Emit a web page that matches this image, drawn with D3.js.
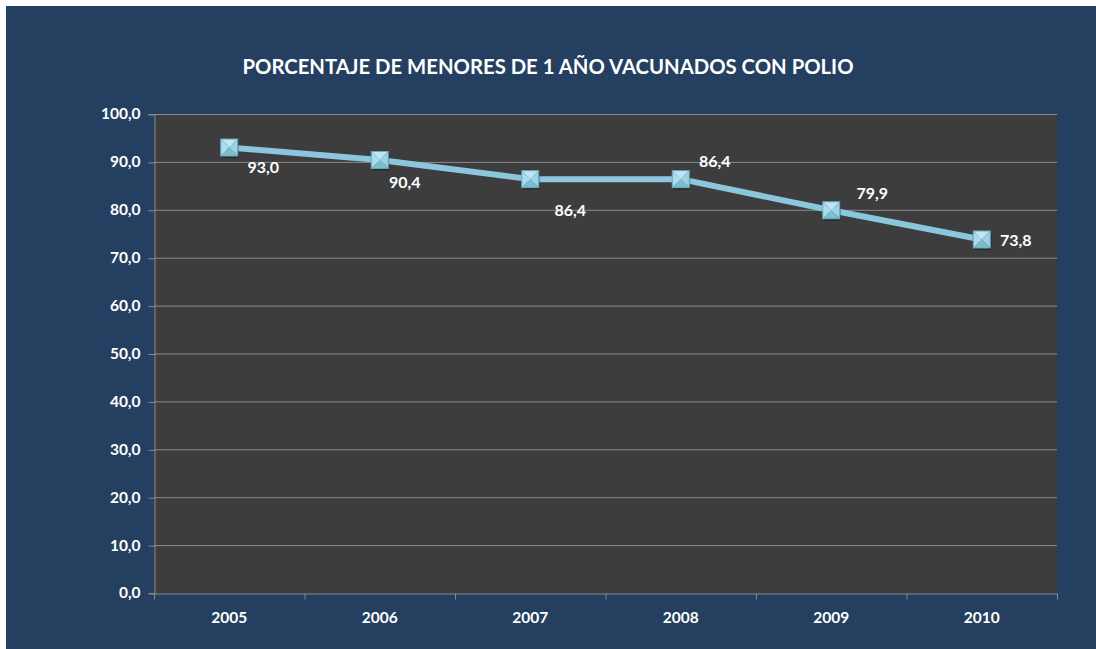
<!DOCTYPE html>
<html>
<head>
<meta charset="utf-8">
<script src="https://cdn.jsdelivr.net/npm/d3@7"></script>
<style>
  html, body { margin: 0; padding: 0; background: #fff; }
  svg { display: block; }
</style>
</head>
<body>
<div id="container"></div>
<script>
const width = 1096;
const height = 649;

const years = ['2005', '2006', '2007', '2008', '2009', '2010'];
const values = [93.0, 90.4, 86.4, 86.4, 79.9, 73.8];
const yTicks = [0, 10, 20, 30, 40, 50, 60, 70, 80, 90, 100];
const title = 'PORCENTAJE DE MENORES DE 1 AÑO VACUNADOS CON POLIO';

// where each value label sits relative to its point (dx, dy)
const labelOffsets = [[34, 20], [25, 22], [40, 31], [34, -18], [41, -17], [34, 1]];

const margin = { top: 114, right: 39, bottom: 56, left: 154 };
const fmt = v => v.toFixed(1).replace('.', ',');
const FONT = 'Lato, "Open Sans", sans-serif';

const svg = d3.select('#container').append('svg')
    .attr('width', width)
    .attr('height', height);

svg.append('rect')
    .attr('x', 6).attr('y', 6)
    .attr('width', width - 6).attr('height', height - 6)
    .attr('fill', '#243f60');

svg.append('text')
    .attr('x', 548)
    .attr('y', 74)
    .attr('text-anchor', 'middle')
    .attr('fill', '#ffffff')
    .attr('font-family', FONT)
    .attr('font-weight', 'bold')
    .attr('font-size', 20.3)
    .text(title);

let x = d3.scaleBand()
    .domain(years)
    .range([margin.left, width - margin.right]);

let y = d3.scaleLinear()
    .domain([0, 100])
    .range([height - margin.bottom, margin.top]);

svg.append('rect')
    .attr('x', x.range()[0])
    .attr('y', y(100))
    .attr('width', x.range()[1] - x.range()[0])
    .attr('height', y(0) - y(100))
    .attr('fill', '#3d3d3d');

// gridlines
svg.append('g')
    .selectAll('line')
    .data(yTicks.filter(d => d > 0))
    .join('line')
    .attr('x1', x.range()[0])
    .attr('x2', x.range()[1])
    .attr('y1', d => y(d) + 0.5)
    .attr('y2', d => y(d) + 0.5)
    .attr('stroke', '#8a8a8a')
    .attr('stroke-width', 1);

// y axis
const yAxis = svg.append('g')
    .attr('transform', `translate(${x.range()[0] + 0.5},0)`)
    .call(d3.axisLeft(y).tickValues(yTicks).tickFormat(fmt).tickSize(6).tickPadding(8));
yAxis.select('.domain').attr('stroke', '#8a8a8a');
yAxis.selectAll('.tick line').attr('stroke', '#8a8a8a').attr('transform', 'translate(0,0.5)');
yAxis.selectAll('.tick text')
    .attr('fill', '#ffffff')
    .attr('font-family', FONT)
    .attr('font-weight', 'bold')
    .attr('font-size', 15.5);

// x axis
const xAxis = svg.append('g')
    .attr('transform', `translate(0,${y(0) + 0.5})`)
    .call(d3.axisBottom(x).tickSize(0).tickPadding(18));
xAxis.select('.domain').attr('stroke', '#8a8a8a');
xAxis.selectAll('.tick text')
    .attr('fill', '#ffffff')
    .attr('font-family', FONT)
    .attr('font-weight', 'bold')
    .attr('font-size', 15.5);
xAxis.selectAll('.sep')
    .data(years.concat(['end']))
    .join('line')
    .attr('class', 'sep')
    .attr('x1', (d, i) => x.range()[0] + i * x.bandwidth() + 0.5)
    .attr('x2', (d, i) => x.range()[0] + i * x.bandwidth() + 0.5)
    .attr('y1', 0)
    .attr('y2', 6)
    .attr('stroke', '#8a8a8a');

const cx = (d, i) => x(years[i]) + x.bandwidth() / 2;

// line
const line = d3.line()
    .x((d, i) => cx(d, i))
    .y(d => y(d));

svg.append('path')
    .datum(values)
    .attr('d', line)
    .attr('fill', 'none')
    .attr('stroke', '#8bc7dc')
    .attr('stroke-width', 6)
    .attr('stroke-linejoin', 'round');

// markers: pyramid-like square
const s = 8.5;
const markers = svg.append('g')
    .selectAll('g')
    .data(values)
    .join('g')
    .attr('transform', (d, i) => `translate(${cx(d, i)},${y(d)})`);

markers.append('rect')
    .attr('x', -s + 1).attr('y', -s + 2)
    .attr('width', 2 * s).attr('height', 2 * s)
    .attr('fill', 'rgba(0,0,0,0.35)');

const faces = [
    { pts: [[-s, -s], [s, -s], [0, 0]], fill: '#bfe7f3' },
    { pts: [[s, -s], [s, s], [0, 0]], fill: '#9ad3e6' },
    { pts: [[s, s], [-s, s], [0, 0]], fill: '#7dbdd3' },
    { pts: [[-s, s], [-s, -s], [0, 0]], fill: '#a9dcec' }
];
faces.forEach(f => {
    markers.append('polygon')
        .attr('points', f.pts.map(p => p.join(',')).join(' '))
        .attr('fill', f.fill);
});
markers.append('rect')
    .attr('x', -s).attr('y', -s)
    .attr('width', 2 * s).attr('height', 2 * s)
    .attr('fill', 'none')
    .attr('stroke', '#6aa8be')
    .attr('stroke-width', 1);

// value labels
svg.append('g')
    .selectAll('text')
    .data(values)
    .join('text')
    .attr('x', (d, i) => cx(d, i) + labelOffsets[i][0])
    .attr('y', (d, i) => y(d) + labelOffsets[i][1])
    .attr('dy', '0.35em')
    .attr('text-anchor', 'middle')
    .attr('fill', '#ffffff')
    .attr('font-family', FONT)
    .attr('font-weight', 'bold')
    .attr('font-size', 16)
    .text(fmt);
</script>
</body>
</html>
